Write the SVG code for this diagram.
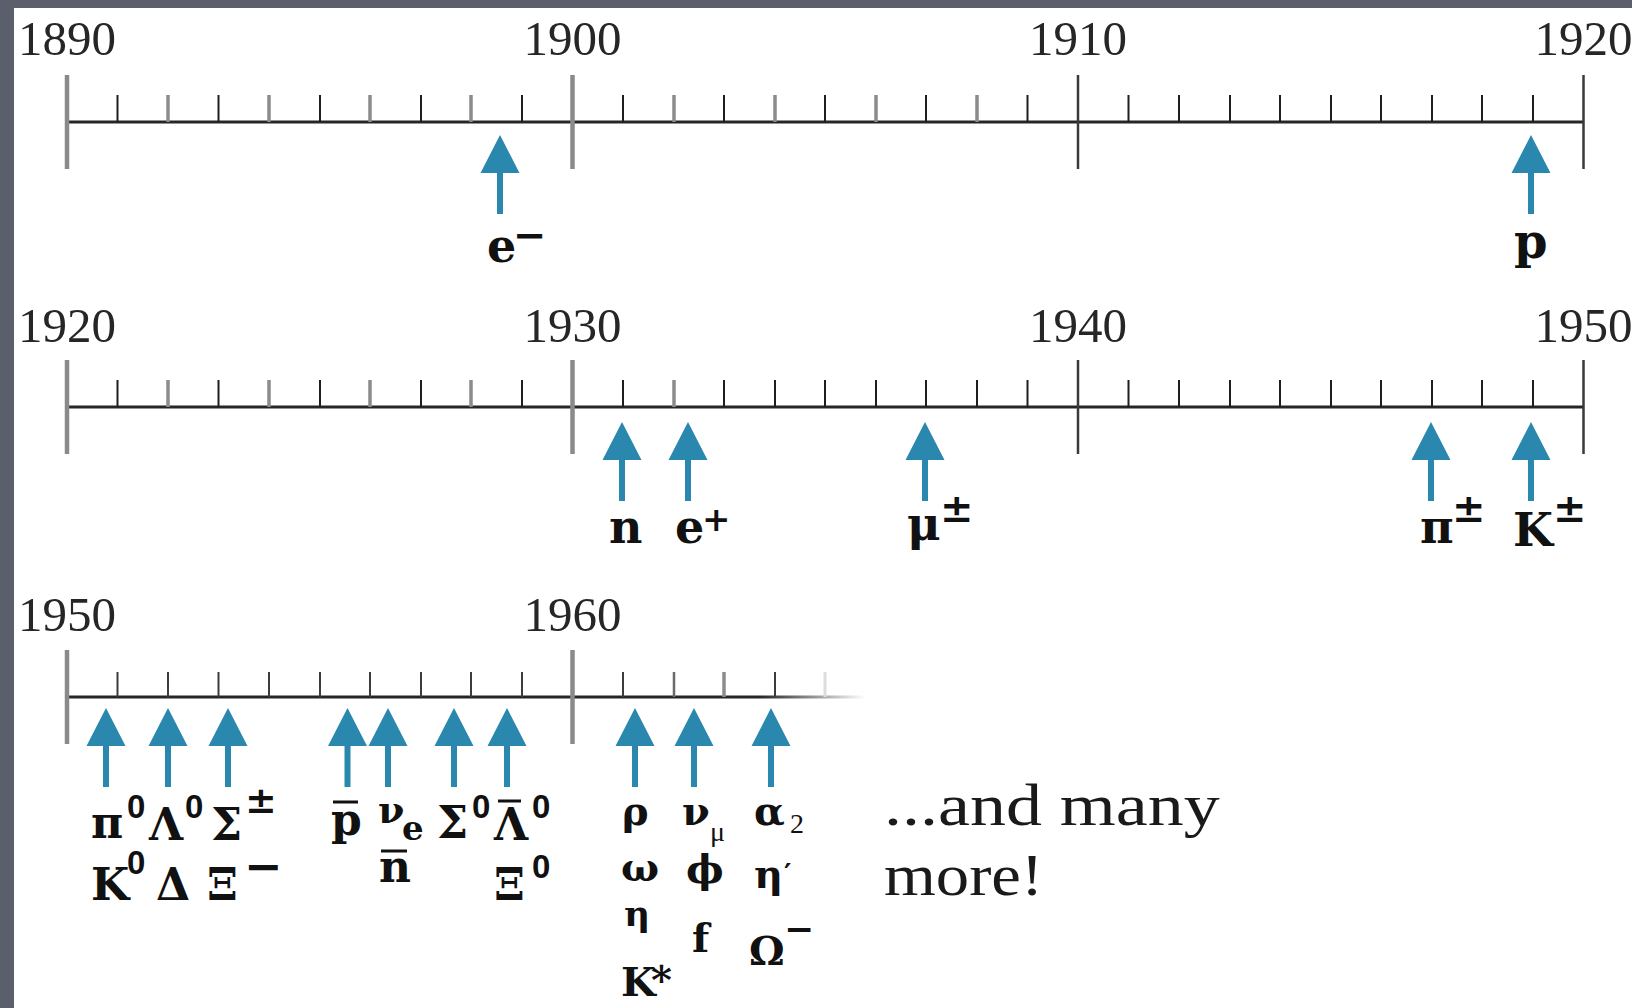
<svg xmlns="http://www.w3.org/2000/svg" width="1632" height="1008" viewBox="0 0 1632 1008">
<defs>
<style>
.yr{font-family:"Liberation Serif","Times New Roman",serif;font-size:49px;fill:#262626;text-anchor:middle}
.axis{stroke:#262626;stroke-width:3;fill:none}
.mjg{stroke:#8a8a8a;stroke-width:4.5;fill:none}
.mjd{stroke:#3a3a3a;stroke-width:2.5;fill:none}
.mnd{stroke:#1e1e1e;stroke-width:2;fill:none}
.mng{stroke:#8c8c8c;stroke-width:3.5;fill:none}
.sym{font-family:"DejaVu Serif",serif;font-weight:bold;fill:#111}
.zero{font-family:"Liberation Sans",Arial,sans-serif;font-weight:bold;font-size:33px;fill:#111}
.small{font-family:"Liberation Serif",serif;font-size:28px;fill:#111}
.bar{stroke:#111;stroke-width:3}
.note{font-family:"Liberation Serif",serif;font-size:59px;fill:#1a1a1a}
</style>
<path id="arr" d="M0,0 L19.5,38 L3,38 L3,79 L-3,79 L-3,38 L-19.5,38 Z" fill="#2a87ae"/>
<linearGradient id="fade" gradientUnits="userSpaceOnUse" x1="760" y1="0" x2="865" y2="0">
<stop offset="0" stop-color="#262626"/><stop offset="1" stop-color="#262626" stop-opacity="0"/>
</linearGradient>
</defs>
<rect width="1632" height="1008" fill="#5b5f6b"/>
<rect x="14" y="8" width="1618" height="1000" fill="#ffffff"/>

<g id="timeline-1890-1920">
<text class="yr" x="67" y="55">1890</text>
<text class="yr" x="572.5" y="55">1900</text>
<text class="yr" x="1078" y="55">1910</text>
<text class="yr" x="1583.5" y="55">1920</text>
<path class="axis" d="M67,122H1583.5"/>
<path class="mjg" d="M67,75V169M572.5,75V169"/>
<path class="mjd" d="M1078,75V169M1583.5,75V169"/>
<path class="mnd" d="M117.5,95V122M218.5,95V122M320,95V122M421,95V122M522,95V122M623,95V122M724,95V122M825,95V122M926,95V122M1027.5,95V122M1128.5,95V122M1179,95V122M1230,95V122M1280,95V122M1331,95V122M1381,95V122M1432,95V122M1482,95V122M1533,95V122"/>
<path class="mng" d="M168,95V122M269,95V122M370,95V122M471,95V122M674,95V122M775,95V122M876,95V122M977,95V122"/>
</g>

<g id="timeline-1920-1950">
<text class="yr" x="67" y="342">1920</text>
<text class="yr" x="572.5" y="342">1930</text>
<text class="yr" x="1078" y="342">1940</text>
<text class="yr" x="1583.5" y="342">1950</text>
<path class="axis" d="M67,407H1583.5"/>
<path class="mjg" d="M67,360V454M572.5,360V454"/>
<path class="mjd" d="M1078,360V454M1583.5,360V454"/>
<path class="mnd" d="M117.5,380V407M218.5,380V407M320,380V407M421,380V407M522,380V407M623,380V407M724,380V407M775,380V407M825,380V407M876,380V407M926,380V407M977,380V407M1027.5,380V407M1128.5,380V407M1179,380V407M1230,380V407M1280,380V407M1331,380V407M1381,380V407M1432,380V407M1482,380V407M1533,380V407"/>
<path class="mng" d="M168,380V407M269,380V407M370,380V407M471,380V407M674,380V407"/>
</g>

<g id="timeline-1950-1965">
<text class="yr" x="67" y="631">1950</text>
<text class="yr" x="572.5" y="631">1960</text>
<path d="M67,697H870" stroke="url(#fade)" stroke-width="3" fill="none"/>
<path class="mjg" d="M67,650V744M572.5,650V744"/>
<path stroke="#3c3c3c" stroke-width="2" fill="none" d="M117.5,672V697M168,672V697M218.5,672V697M269,672V697M320,672V697M370,672V697M421,672V697M471,672V697M522,672V697M623,672V697M775,672V697"/>
<path stroke="#6a6a6a" stroke-width="2.5" fill="none" d="M674,672V697"/>
<path stroke="#8c8c8c" stroke-width="3.5" fill="none" d="M724,672V697"/>
<path stroke="#dddddd" stroke-width="3" fill="none" d="M825,672V697"/>
</g>

<g id="connectors">
<use href="#arr" x="500" y="135"/>
<use href="#arr" x="1531" y="135"/>
<use href="#arr" x="622" y="422"/>
<use href="#arr" x="688" y="422"/>
<use href="#arr" x="925" y="422"/>
<use href="#arr" x="1431" y="422"/>
<use href="#arr" x="1531" y="422"/>
<use href="#arr" x="106" y="708"/>
<use href="#arr" x="168" y="708"/>
<use href="#arr" x="228" y="708"/>
<use href="#arr" x="347.5" y="708"/>
<use href="#arr" x="388" y="708"/>
<use href="#arr" x="454" y="708"/>
<use href="#arr" x="507" y="708"/>
<use href="#arr" x="635" y="708"/>
<use href="#arr" x="694" y="708"/>
<use href="#arr" x="771" y="708"/>
</g>

<g id="node-electron"><text class="sym" font-size="46" x="487" y="262">e</text><text class="sym" font-size="40" x="513" y="249">−</text></g>
<g id="node-proton"><text class="sym" font-size="48" x="1514" y="258">p</text></g>

<g id="node-neutron"><text class="sym" font-size="46" x="609" y="543">n</text></g>
<g id="node-positron"><text class="sym" font-size="46" x="675" y="543">e</text><text class="sym" font-size="34" x="702" y="531">+</text></g>
<g id="node-muon"><text class="sym" font-size="46" x="907" y="540">μ</text><text class="sym" font-size="40" x="940" y="522">±</text></g>
<g id="node-pion"><text class="sym" font-size="46" x="1420" y="543">π</text><text class="sym" font-size="40" x="1452" y="522">±</text></g>
<g id="node-kaon"><text class="sym" font-size="46" x="1513" y="546">K</text><text class="sym" font-size="40" x="1553" y="522">±</text></g>

<g id="node-1950s" font-size="44">
<text class="sym" x="91" y="838">π</text><text class="zero" x="127" y="818">0</text>
<text class="sym" x="149" y="840">Λ</text><text class="zero" x="185" y="818">0</text>
<text class="sym" x="211" y="840">Σ</text><text class="sym" font-size="38" x="245" y="813">±</text>
<text class="sym" x="91" y="900">K</text><text class="zero" x="127" y="874">0</text>
<text class="sym" x="156" y="900">Δ</text>
<text class="sym" x="207" y="900">Ξ</text><text class="sym" font-size="46" x="244" y="882">−</text>
<text class="sym" x="331" y="835">p</text><line class="bar" x1="333" y1="802" x2="358" y2="802"/>
<text class="sym" font-size="38" x="378" y="823">ν</text><text class="sym" font-size="34" x="402" y="840">e</text>
<text class="sym" x="379" y="882">n</text><line class="bar" x1="381" y1="851" x2="407" y2="851"/>
<text class="sym" x="437" y="838">Σ</text><text class="zero" x="472" y="818">0</text>
<text class="sym" x="494" y="840">Λ</text><line class="bar" x1="498" y1="801" x2="521" y2="801"/><text class="zero" x="532" y="818">0</text>
<text class="sym" x="494" y="900">Ξ</text><text class="zero" x="532" y="878">0</text>
</g>

<g id="node-1960s" font-size="40">
<text class="sym" x="622" y="825">ρ</text>
<text class="sym" x="682" y="825">ν</text><text class="small" font-size="32" x="710" y="841">μ</text>
<text class="sym" x="754" y="825">α</text><text class="small" x="790" y="833">2</text>
<text class="sym" x="621" y="881">ω</text>
<text class="sym" x="686" y="883">ϕ</text>
<text class="sym" x="754" y="888">η</text><text class="sym" font-size="28" x="784" y="884">′</text>
<text class="sym" font-size="36" x="624" y="926">η</text>
<text class="sym" x="692" y="952">f</text>
<text class="sym" x="749" y="965">Ω</text><text class="sym" font-size="36" x="784" y="941">−</text>
<text class="sym" x="621" y="996">K</text><text class="sym" font-size="40" x="651" y="994">*</text>
</g>

<g id="note">
<text class="note" transform="translate(884,825) scale(1.22,1)">...and many</text>
<text class="note" transform="translate(884,895) scale(1.13,1)">more!</text>
</g>
</svg>
